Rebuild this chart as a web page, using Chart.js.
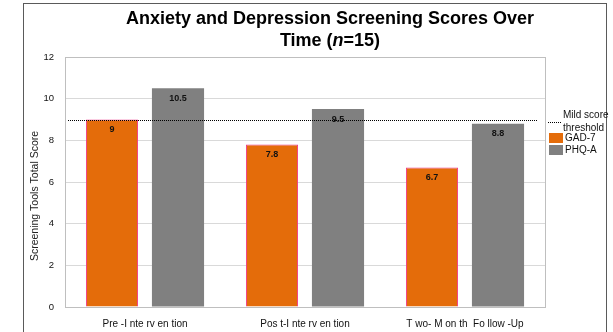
<!DOCTYPE html>
<html>
<head>
<meta charset="utf-8">
<script src="https://cdn.jsdelivr.net/npm/chart.js@4/dist/chart.umd.min.js"></script>
<style>
  html, body { margin: 0; padding: 0; background: #ffffff; }
  #wrap { width: 613px; height: 332px; position: relative; }
</style>
</head>
<body>
<div id="wrap"><canvas id="chart" width="613" height="332"></canvas></div>
<script>
// Time points and mean scores per screening tool
const timepoints = ['Pre -I nte rv en tion', 'Pos t-I nte rv en tion', 'T wo- M on th  Fo llow -Up'];
const gad7Scores = [9, 7.8, 6.7];
const phqaScores = [10.5, 9.5, 8.8];
const mildThreshold = 9;
const seriesNames = ['GAD-7', 'PHQ-A'];
const thresholdLabel = ['Mild score', 'threshold'];
const yAxisTitle = 'Screening Tools Total Score';
const titleLine1 = 'Anxiety and Depression Screening Scores Over';

const FONT = '"Liberation Sans", Arial, sans-serif';
const ORANGE = '#E46C0A';
const GREY = '#808080';
const PINK = '#F0388A';
const TITLE_X = 330;

// Frame, title, plot border, threshold line, value labels and legend
const decorations = {
  id: 'decorations',
  beforeDraw(chart) {
    const ctx = chart.ctx;
    ctx.save();
    ctx.fillStyle = '#ffffff';
    ctx.fillRect(0, 0, chart.width, chart.height);
    ctx.strokeStyle = '#5a5a5a';
    ctx.lineWidth = 1;
    ctx.strokeRect(23.5, 3.5, 583, 360);

    // title
    ctx.fillStyle = '#000';
    ctx.textBaseline = 'middle';
    ctx.textAlign = 'center';
    const boldF = 'bold 18px ' + FONT, italF = 'italic bold 18px ' + FONT;
    ctx.font = boldF;
    ctx.fillText(titleLine1, TITLE_X, 19);
    const a = 'Time (', b = 'n', c = '=15)';
    ctx.font = boldF; const wa = ctx.measureText(a).width, wc = ctx.measureText(c).width;
    ctx.font = italF; const wb = ctx.measureText(b).width;
    let x = TITLE_X - (wa + wb + wc) / 2;
    ctx.textAlign = 'left';
    ctx.font = boldF; ctx.fillText(a, x, 41); x += wa;
    ctx.font = italF; ctx.fillText(b, x, 41); x += wb;
    ctx.font = boldF; ctx.fillText(c, x, 41);

    // y axis title
    ctx.save();
    ctx.translate(35, 196);
    ctx.rotate(-Math.PI / 2);
    ctx.textAlign = 'center';
    ctx.font = '10.5px ' + FONT;
    ctx.fillStyle = '#222';
    ctx.fillText(yAxisTitle, 0, 0);
    ctx.restore();
    ctx.restore();
  },
  beforeDatasetsDraw(chart) {
    const ctx = chart.ctx, ca = chart.chartArea;
    ctx.save();
    ctx.strokeStyle = '#bfbfbf';
    ctx.lineWidth = 1;
    ctx.strokeRect(Math.round(ca.left) + 0.5, Math.round(ca.top) + 0.5,
                   Math.round(ca.right - ca.left), Math.round(ca.bottom - ca.top));
    ctx.restore();
  },
  afterDatasetsDraw(chart) {
    const ctx = chart.ctx, ca = chart.chartArea;
    const yScale = chart.scales.y;
    ctx.save();
    // value labels inside bar tops
    ctx.font = 'bold 9px ' + FONT;
    ctx.fillStyle = '#111';
    ctx.textAlign = 'center';
    ctx.textBaseline = 'middle';
    chart.data.datasets.forEach((ds, di) => {
      chart.getDatasetMeta(di).data.forEach((bar, i) => {
        ctx.fillText(String(ds.data[i]), bar.x, bar.y + 10);
      });
    });

    // mild score threshold
    const ty = Math.round(yScale.getPixelForValue(mildThreshold)) + 0.5;
    ctx.strokeStyle = '#000';
    ctx.lineWidth = 1;
    ctx.setLineDash([1, 1]);
    ctx.beginPath();
    ctx.moveTo(ca.left + 3, ty);
    ctx.lineTo(ca.right - 8, ty);
    ctx.stroke();

    // legend
    const lx = 548;
    ctx.beginPath();
    ctx.moveTo(lx, 122.5);
    ctx.lineTo(lx + 13, 122.5);
    ctx.stroke();
    ctx.setLineDash([]);
    ctx.font = '10px ' + FONT;
    ctx.textAlign = 'left';
    ctx.fillStyle = '#111';
    ctx.fillText(thresholdLabel[0], 563, 115);
    ctx.fillText(thresholdLabel[1], 563, 128);
    ctx.fillStyle = ORANGE;
    ctx.fillRect(549, 133, 14, 10);
    ctx.fillStyle = GREY;
    ctx.fillRect(549, 145, 14, 10);
    ctx.fillStyle = '#111';
    ctx.fillText(seriesNames[0], 565, 138);
    ctx.fillText(seriesNames[1], 565, 150);
    ctx.restore();
  }
};

new Chart(document.getElementById('chart'), {
  type: 'bar',
  data: {
    labels: timepoints,
    datasets: [
      { label: seriesNames[0], data: gad7Scores, backgroundColor: ORANGE,
        borderColor: PINK, borderWidth: 1 },
      { label: seriesNames[1], data: phqaScores, backgroundColor: GREY, borderWidth: 0 }
    ]
  },
  options: {
    responsive: false,
    animation: false,
    devicePixelRatio: 1,
    categoryPercentage: 0.825,
    barPercentage: 0.79,
    layout: { padding: { left: 25, right: 68, top: 57, bottom: 0 } },
    plugins: { legend: { display: false }, title: { display: false }, tooltip: { enabled: false } },
    scales: {
      x: {
        grid: { display: false },
        border: { display: false },
        ticks: { color: '#111', font: { family: FONT, size: 10 }, padding: 3, maxRotation: 0 },
        afterFit(scale) { scale.height = 25; }
      },
      y: {
        min: 0, max: 12,
        grid: { color: '#d9d9d9', drawTicks: false },
        border: { display: false },
        ticks: { stepSize: 2, color: '#111', font: { family: FONT, size: 9.5 }, padding: 11 },
        afterFit(scale) { scale.width = 40; }
      }
    }
  },
  plugins: [decorations]
});
</script>
</body>
</html>
